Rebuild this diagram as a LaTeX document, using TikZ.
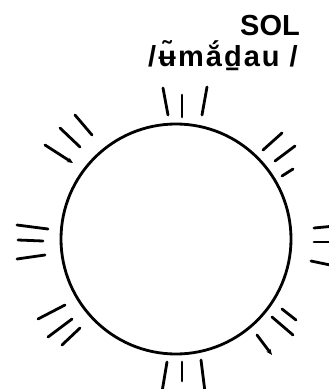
\documentclass[tikz,border=0pt]{standalone}
\usepackage{fontspec}
\setmainfont{Liberation Sans}
\usetikzlibrary{arrows.meta}

\begin{document}
\begin{tikzpicture}[
  x=1pt, y=-1pt,
  sun/.style={draw,circle,line width=2.8pt,minimum size=230pt,inner sep=0pt},
  ray/.style={line width=2.8pt,line cap=round},
  tipped/.style={-{Stealth[length=6pt,width=5pt]}},
  sunword/.style={font=\fontsize{29}{32}\selectfont\bfseries,inner sep=0pt}
]
  \useasboundingbox (0,0) rectangle (329,389);
  \clip (0,0) rectangle (329,389);

  \node[sun] (sun) at (176,239) {};

  \node[sunword,anchor=base east] (word) at (300,35) {SOL};
  \node[sunword,anchor=base east] (sound) at (298,66)
    {\addfontfeature{LetterSpace=7}/ʉ̃mắd̠au /};

  % rays, three to a group, clockwise from the top
  \foreach \a/\b in {{163,88}/{168,115},{182,95}/{182,117},{207,87}/{202,115},
      {282,133}/{263,150},{295,146}/{275,161},{293,169}/{282,176},
      {314,228}/{335,226},{314,242}/{335,242},{311,261}/{335,266},
      {282,309}/{296,320},{272,317}/{293,335},
      {167,362}/{162,392},{182,362}/{182,381},{201,360}/{205,392},
      {38,319}/{65,305},{48,337}/{72,319},{62,345}/{80,328},
      {17,225}/{48,229},{18,240}/{43,241},{17,259}/{45,255},
      {75,115}/{92,135},{60,128}/{80,147}}
    \draw[ray] (\a) -- (\b);
  \draw[ray,tipped] (257,335) -- (272,355);
  \draw[ray,tipped] (45,145) -- (73,163);
\end{tikzpicture}
\end{document}
